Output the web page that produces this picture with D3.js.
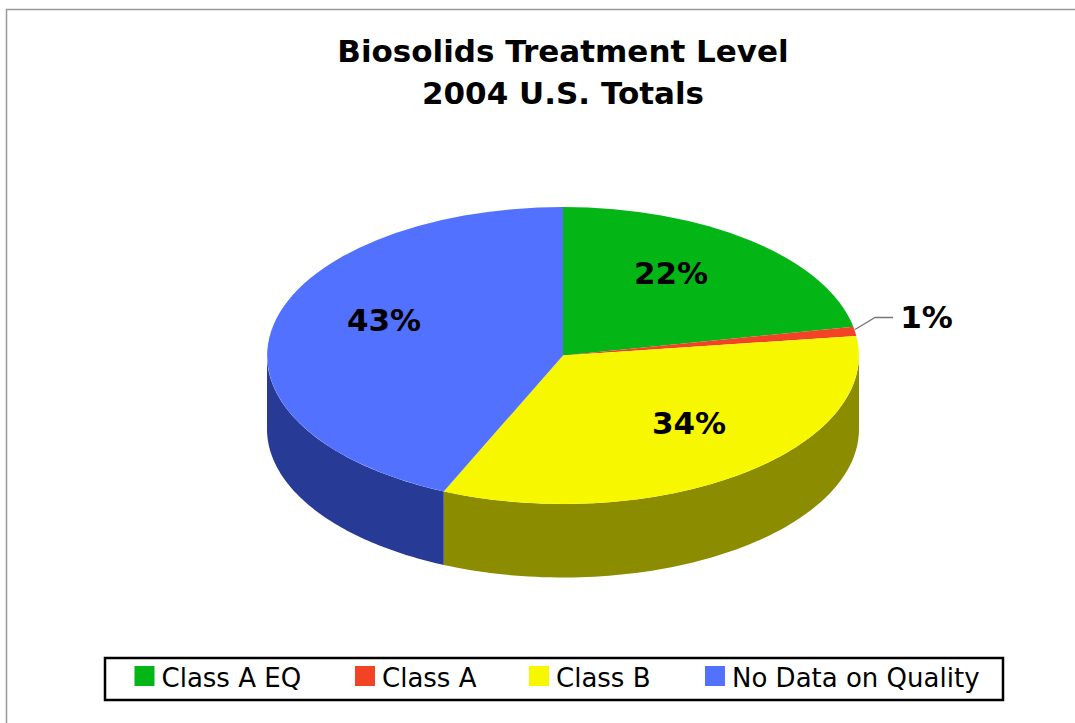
<!DOCTYPE html>
<html><head><meta charset="utf-8">
<script src="https://cdn.jsdelivr.net/npm/d3@7"></script>
<style>html,body{margin:0;padding:0;background:#fff}svg{display:block}text{font-family:"DejaVu Sans",sans-serif;fill:#000}</style>
</head><body><div id="c"></div>
<script>
const categories=["Class A EQ","Class A","Class B","No Data on Quality"];
const values=[21.9,1.0,33.7,43.4];
const labels=["22%","1%","34%","43%"];
const colors=["#03b515","#f34327","#f7f800","#5271ff"];
const sideColors=["#025c0b","#7a2213","#8c8c00","#273a96"];
const titleLines=["Biosolids Treatment Level","2004 U.S. Totals"];

const W=1075,H=723,cx=563,cy=355.5,rx=296,ry=148.5,depth=73.5;
const svg=d3.select("#c").append("svg").attr("width",W).attr("height",H);
svg.append("path").attr("d",`M6.5,723V9.5H1075`).attr("fill","none").attr("stroke","#999").attr("stroke-width",1.5);

svg.selectAll("text.title").data(titleLines).join("text").attr("class","title")
 .attr("x",563).attr("y",(d,i)=>62+i*42).attr("text-anchor","middle")
 .attr("font-size",31).attr("font-weight","bold").text(d=>d);

const arcs=d3.pie().sort(null).value(d=>d)(values);
const px=a=>cx+rx*Math.sin(a), py=a=>cy-ry*Math.cos(a);
const g3=svg.append("g");
arcs.forEach((a,i)=>{
  const s=Math.max(a.startAngle,Math.PI/2), e=Math.min(a.endAngle,Math.PI*1.5);
  if(e<=s) return;
  const p=d3.path();
  p.moveTo(px(s),py(s));
  const steps=80;
  for(let k=1;k<=steps;k++){const t=s+(e-s)*k/steps;p.lineTo(px(t),py(t));}
  for(let k=steps;k>=0;k--){const t=s+(e-s)*k/steps;p.lineTo(px(t),py(t)+depth);}
  p.closePath();
  g3.append("path").attr("d",p.toString()).attr("fill",sideColors[i]);
});
const arc=d3.arc().innerRadius(0).outerRadius(1);
svg.append("g").attr("transform",`translate(${cx},${cy}) scale(${rx},${ry})`)
 .selectAll("path").data(arcs).join("path").attr("d",arc).attr("fill",(d,i)=>colors[i]);

const labelPos=[[671,284],[926.5,328],[689,434],[384,331]];
svg.selectAll("text.lab").data(labels).join("text").attr("class","lab")
 .attr("x",(d,i)=>labelPos[i][0]).attr("y",(d,i)=>labelPos[i][1]).attr("text-anchor","middle")
 .attr("font-size",31).attr("font-weight","bold").text(d=>d);
svg.append("polyline").attr("points","855,329.5 875,317.5 893,317.5").attr("fill","none").attr("stroke","#777").attr("stroke-width",1.3);

svg.append("rect").attr("x",105).attr("y",658).attr("width",898).attr("height",42).attr("fill","#fff").attr("stroke","#000").attr("stroke-width",2.5);
const lx=[134.5,355,529,705];
const g=svg.selectAll("g.leg").data(categories).join("g").attr("class","leg").attr("transform",(d,i)=>`translate(${lx[i]},666)`);
g.append("rect").attr("width",20).attr("height",20).attr("fill",(d,i)=>colors[i]);
g.append("text").attr("x",27).attr("y",21).attr("font-size",26).text(d=>d);
</script></body></html>
